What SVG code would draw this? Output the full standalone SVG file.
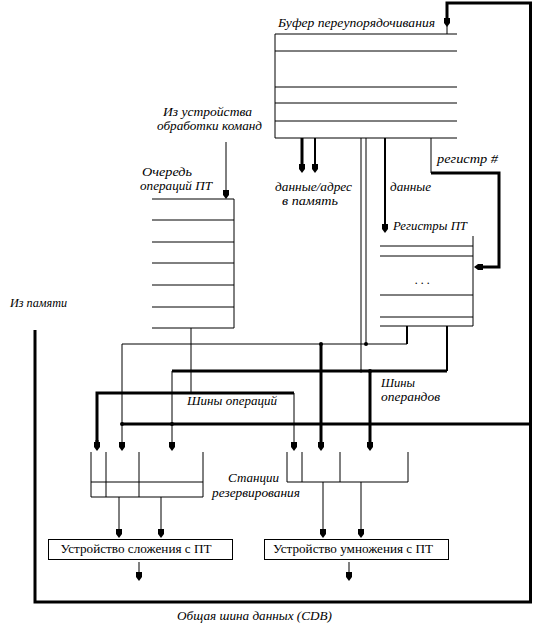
<svg xmlns="http://www.w3.org/2000/svg" width="534" height="629" viewBox="0 0 534 629">
<style>
  .bg { fill: #ffffff; }
  .t1 { stroke: #000; stroke-width: 1; fill: none; }
  .t2 { stroke: #000; stroke-width: 2; fill: none; }
  .t3 { stroke: #000; stroke-width: 3; fill: none; }
  .box { stroke: #000; stroke-width: 1; fill: #fff; }
  .lbl { font-family: "Liberation Serif", "DejaVu Serif", serif; font-style: italic; font-size: 12px; fill: #000; }
  .unit { font-family: "Liberation Serif", "DejaVu Serif", serif; font-size: 13px; fill: #000; }
  .dot { fill: #000; }
</style>
<defs>
  <marker id="ah" markerUnits="userSpaceOnUse" viewBox="0 -4 10 8" markerWidth="10" markerHeight="8" refX="5" refY="0" orient="auto">
    <path d="M0,-3 L5,-3 L9,0 L5,3 L0,3 Z" fill="#000"/>
  </marker>
</defs>
<rect class="bg" x="0" y="0" width="534" height="629"/>

<g id="reorder-buffer">
  <path class="t1" d="M457,34 L275,34 L275,138 L457,138"/>
  <line class="t1" x1="275" y1="51" x2="457" y2="51"/>
  <line class="t1" x1="275" y1="87" x2="457" y2="87"/>
  <line class="t1" x1="275" y1="103" x2="457" y2="103"/>
  <line class="t1" x1="275" y1="121" x2="457" y2="121"/>
  <text class="lbl" x="278" y="27" textLength="157" lengthAdjust="spacingAndGlyphs">Буфер переупорядочивания</text>
</g>

<g id="instruction-queue">
  <path class="t1" d="M152,199 L234,199 L234,328 L152,328"/>
  <line class="t1" x1="152" y1="220" x2="234" y2="220"/>
  <line class="t1" x1="152" y1="242" x2="234" y2="242"/>
  <line class="t1" x1="152" y1="263" x2="234" y2="263"/>
  <line class="t1" x1="152" y1="285" x2="234" y2="285"/>
  <line class="t1" x1="152" y1="307" x2="234" y2="307"/>
  <text class="lbl" x="142" y="176" textLength="50" lengthAdjust="spacingAndGlyphs">Очередь</text>
  <text class="lbl" x="140" y="190" textLength="72" lengthAdjust="spacingAndGlyphs">операций ПТ</text>
</g>

<g id="fp-registers">
  <path class="t1" d="M473,236 L473,326 L380,326"/>
  <line class="t1" x1="380" y1="246" x2="473" y2="246"/>
  <line class="t1" x1="380" y1="256" x2="473" y2="256"/>
  <line class="t1" x1="380" y1="295" x2="473" y2="295"/>
  <line class="t1" x1="380" y1="317" x2="473" y2="317"/>
  <text class="lbl" x="415" y="284" font-style="normal" font-size="10">. . .</text>
  <text class="lbl" x="393" y="230" textLength="74" lengthAdjust="spacingAndGlyphs">Регистры ПТ</text>
</g>

<g id="rs-add">
  <path class="t1" d="M91,452 L91,497 L203,497 L203,452"/>
  <line class="t1" x1="91" y1="482" x2="203" y2="482"/>
  <line class="t1" x1="106" y1="452" x2="106" y2="497"/>
  <line class="t1" x1="139" y1="452" x2="139" y2="497"/>
</g>

<g id="rs-mul">
  <path class="t1" d="M287,452 L287,482 L408,482 L408,452"/>
  <line class="t1" x1="302" y1="452" x2="302" y2="482"/>
  <line class="t1" x1="340" y1="452" x2="340" y2="482"/>
</g>

<g id="fp-adder">
  <rect class="box" x="48.5" y="539.5" width="184" height="20"/>
  <text class="unit" x="136" y="553" text-anchor="middle" textLength="151" lengthAdjust="spacingAndGlyphs">Устройство сложения с ПТ</text>
</g>

<g id="fp-multiplier">
  <rect class="box" x="264.5" y="539.5" width="184" height="20"/>
  <text class="unit" x="353" y="553" text-anchor="middle" textLength="160" lengthAdjust="spacingAndGlyphs">Устройство умножения с ПТ</text>
</g>

<g id="connectors">
  <path class="t3" d="M35,330 L35,602 L530.5,602 L530.5,3 L447,3 L447,23" marker-end="url(#ah)"/>
  <line class="t1" x1="447" y1="26" x2="447" y2="34"/>
  <line class="t3" x1="122" y1="424" x2="530" y2="424"/>
  <line class="t3" x1="302" y1="138" x2="302" y2="169" marker-end="url(#ah)"/>
  <line class="t2" x1="315" y1="138" x2="315" y2="169" marker-end="url(#ah)"/>
  <line class="t2" x1="385" y1="138" x2="385" y2="229" marker-end="url(#ah)"/>
  <line class="t1" x1="431" y1="138" x2="431" y2="173"/>
  <path class="t3" d="M431,173 L499,173 L499,267 L478,267" marker-end="url(#ah)"/>
  <line class="t1" x1="361" y1="138" x2="361" y2="371"/>
  <line class="t1" x1="366" y1="138" x2="366" y2="344"/>
  <line class="t1" x1="226" y1="142" x2="226" y2="195" marker-end="url(#ah)"/>
  <line class="t2" x1="407" y1="326" x2="407" y2="344"/>
  <line class="t1" x1="122" y1="344" x2="407" y2="344"/>
  <line class="t2" x1="447" y1="326" x2="447" y2="371"/>
  <line class="t3" x1="172" y1="371" x2="447" y2="371"/>
  <line class="t1" x1="191" y1="328" x2="191" y2="393"/>
  <path class="t3" d="M97,447 L97,393 L294,393"/>
  <path class="t1" d="M294,393 L294,447" marker-end="url(#ah)"/>
  <line class="t3" x1="97" y1="440" x2="97" y2="447" marker-end="url(#ah)"/>
  <line class="t1" x1="122" y1="344" x2="122" y2="447" marker-end="url(#ah)"/>
  <line class="t1" x1="172" y1="371" x2="172" y2="447" marker-end="url(#ah)"/>
  <line class="t3" x1="321" y1="344" x2="321" y2="447" marker-end="url(#ah)"/>
  <line class="t3" x1="370" y1="371" x2="370" y2="447" marker-end="url(#ah)"/>
  <line class="t1" x1="119" y1="497" x2="119" y2="534" marker-end="url(#ah)"/>
  <line class="t1" x1="161" y1="497" x2="161" y2="534" marker-end="url(#ah)"/>
  <line class="t1" x1="323" y1="482" x2="323" y2="534" marker-end="url(#ah)"/>
  <line class="t1" x1="361" y1="482" x2="361" y2="534" marker-end="url(#ah)"/>
  <line class="t1" x1="139" y1="562" x2="139" y2="577" marker-end="url(#ah)"/>
  <line class="t1" x1="349" y1="562" x2="349" y2="577" marker-end="url(#ah)"/>
  <circle class="dot" cx="122" cy="424" r="2"/>
  <circle class="dot" cx="172" cy="424" r="2"/>
  <circle class="dot" cx="321" cy="344" r="2"/>
  <circle class="dot" cx="366" cy="344" r="2"/>
  <circle class="dot" cx="361" cy="371" r="1.5"/>
  <circle class="dot" cx="370" cy="371" r="2"/>
</g>

<g id="labels">
  <text class="lbl" x="163" y="116" textLength="89" lengthAdjust="spacingAndGlyphs">Из устройства</text>
  <text class="lbl" x="157" y="130" textLength="105" lengthAdjust="spacingAndGlyphs">обработки команд</text>
  <text class="lbl" x="275" y="191" textLength="77" lengthAdjust="spacingAndGlyphs">данные/адрес</text>
  <text class="lbl" x="282" y="205" textLength="56" lengthAdjust="spacingAndGlyphs">в  память</text>
  <text class="lbl" x="390" y="191" textLength="41" lengthAdjust="spacingAndGlyphs">данные</text>
  <text class="lbl" x="437" y="163" textLength="61" lengthAdjust="spacingAndGlyphs">регистр #</text>
  <text class="lbl" x="10" y="307" textLength="57" lengthAdjust="spacingAndGlyphs">Из памяти</text>
  <text class="lbl" x="187" y="405" textLength="90" lengthAdjust="spacingAndGlyphs">Шины операций</text>
  <text class="lbl" x="381" y="387" textLength="34" lengthAdjust="spacingAndGlyphs">Шины</text>
  <text class="lbl" x="381" y="401" textLength="59" lengthAdjust="spacingAndGlyphs">операндов</text>
  <text class="lbl" x="228" y="482" textLength="51" lengthAdjust="spacingAndGlyphs">Станции</text>
  <text class="lbl" x="212" y="497" textLength="88" lengthAdjust="spacingAndGlyphs">резервирования</text>
  <text class="lbl" x="177" y="620" textLength="155" lengthAdjust="spacingAndGlyphs">Общая шина данных (CDB)</text>
</g>
</svg>
